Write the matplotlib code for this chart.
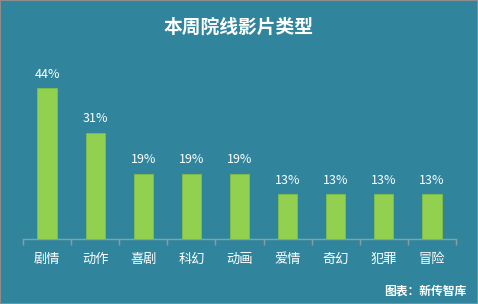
import matplotlib
matplotlib.use("Agg")
import matplotlib.pyplot as plt
from matplotlib.patches import Rectangle

categories = ["剧情", "动作", "喜剧", "科幻", "动画", "爱情", "奇幻", "犯罪", "冒险"]
values = [0.44, 0.31, 0.19, 0.19, 0.19, 0.13, 0.13, 0.13, 0.13]
title = "本周院线影片类型"
source = "图表：新传智库"

plt.rcParams['font.family'] = ['Noto Sans CJK SC', 'DejaVu Sans']
bg = "#30859c"
W, H = 478, 304
fig = plt.figure(figsize=(W/100, H/100), dpi=100, facecolor=bg)

left, right, base = 23, 456, 239
scale = 343.0
ymax = 0.5
top = base - ymax*scale
ax = fig.add_axes([left/W, 1 - base/H, (right-left)/W, (base-top)/H])
ax.set_facecolor(bg)
x = list(range(len(categories)))
ax.bar(x, values, width=0.4, color="#92d050", edgecolor="#7fbf45", linewidth=0.6, zorder=3)
for xi, v in zip(x, values):
    ax.text(xi, v + 0.022, f"{int(round(v*100))}%", ha="center", va="bottom",
            color="white", fontsize=9)
ax.set_xlim(-0.5, len(categories) - 0.5)
ax.set_ylim(0, ymax)
for s in ["top", "right", "left"]:
    ax.spines[s].set_visible(False)
ax.spines["bottom"].set_color("#8a9ea6")
ax.spines["bottom"].set_linewidth(1.0)
ax.set_yticks([])
ax.set_xticks([i - 0.5 for i in range(len(categories) + 1)], minor=False)
ax.set_xticklabels([])
ax.tick_params(axis="x", which="major", length=4, color="#8a9ea6", width=1.0)
ax.set_xticks(x, minor=True)
ax.set_xticklabels(categories, minor=True)
ax.tick_params(axis="x", which="minor", length=0, colors="white", labelsize=9.5, pad=10)

fig.text(0.5, 1 - 27/H, title, ha="center", va="center", color="white",
         fontsize=13.5, fontweight="bold")
fig.text(1 - 12/W, 1 - 291/H, source, ha="right", va="center", color="white",
         fontsize=8.5, fontweight="bold")
fig.patches.append(Rectangle((0, 0), 1, 1, transform=fig.transFigure, fill=False,
                             edgecolor="#8c8c8c", linewidth=1.5))
fig.savefig("out.png", dpi=100, facecolor=bg)
